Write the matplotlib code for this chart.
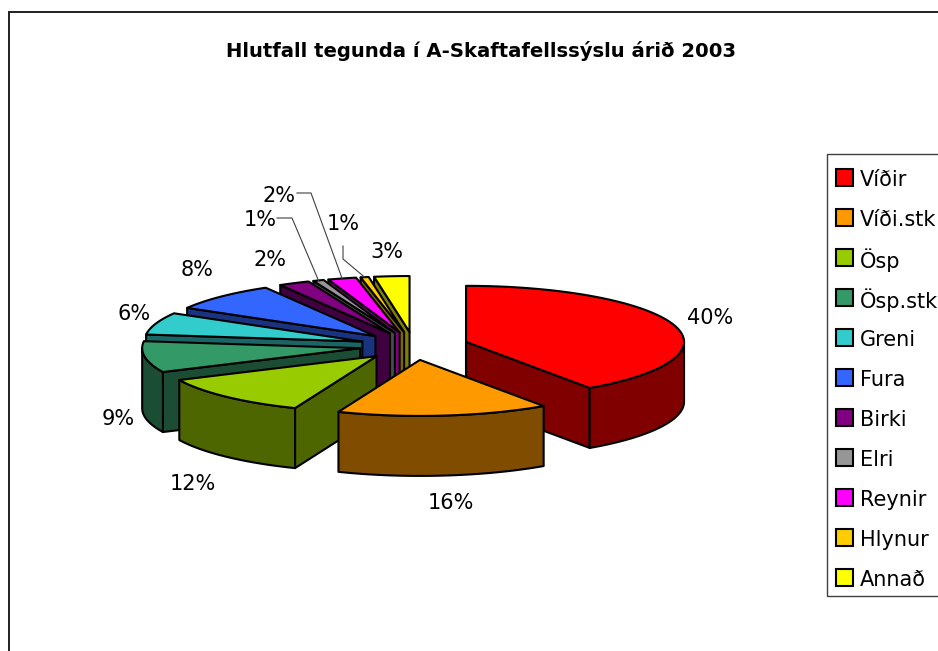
import numpy as np
import matplotlib
matplotlib.use("Agg")
import matplotlib.pyplot as plt
from matplotlib.patches import Polygon, Rectangle

categories = ["Víðir", "Víði.stk", "Ösp", "Ösp.stk", "Greni", "Fura", "Birki", "Elri", "Reynir", "Hlynur", "Annað"]
values = [40.4, 15.7, 11.9, 9.0, 6.4, 8.2, 2.3, 0.8, 2.1, 0.6, 2.6]
top_colors = ["#FF0000", "#FF9900", "#99CC00", "#339966", "#33CCCC", "#3366FF", "#800080", "#969696", "#FF00FF", "#FFCC00", "#FFFF00"]
side_colors = ["#800000", "#804C00", "#4D6600", "#1A4D33", "#1A6666", "#1A3380", "#400040", "#4B4B4B", "#800080", "#806600", "#808000"]
title = "Hlutfall tegunda í A-Skaftafellssýslu árið 2003"

W, H = 938, 651
CX, CY = 414, 346      # pie centre (px)
RX, RY = 218, 56       # ellipse radii (px)
DEPTH = 60
EXPLODE = 0.25
LW = 1.5

fig = plt.figure(figsize=(W / 100, H / 100), dpi=100, facecolor="white")
ax = fig.add_axes([0, 0, 1, 1])
ax.set_xlim(0, W)
ax.set_ylim(H, 0)
ax.axis("off")
plt.rcParams["font.family"] = "DejaVu Sans"

# outer chart frame (runs off the right and bottom of the picture)
ax.add_patch(Rectangle((9, 12), W + 50, H + 50, fc="white", ec="#202020", lw=1.4, clip_on=True))


def pt(deg, r=1.0, ox=0.0, oy=0.0):
    t = np.radians(deg)
    return ox + RX * r * np.sin(t), oy - RY * r * np.cos(t)


total = sum(values)
edges = np.concatenate([[0], np.cumsum(values)]) / total * 360
slices = []
for i in range(len(values)):
    a, b = edges[i], edges[i + 1]
    m = (a + b) / 2
    ox, oy = pt(m, EXPLODE, CX, CY)
    slices.append((i, a, b, m, ox, oy))


def poly(xy, fc, z):
    ax.add_patch(Polygon(xy, closed=True, fc=fc, ec="black", lw=LW, joinstyle="round", zorder=z))


z = 2
for i, a, b, m, ox, oy in sorted(slices, key=lambda s: -np.cos(np.radians(s[3]))):
    side = side_colors[i]
    # radial walls that face the viewer
    if np.sin(np.radians(a)) < -1e-6:
        x, y = pt(a, 1, ox, oy)
        poly([(ox, oy), (x, y), (x, y + DEPTH), (ox, oy + DEPTH)], side, z); z += 1
    if np.sin(np.radians(b)) > 1e-6:
        x, y = pt(b, 1, ox, oy)
        poly([(ox, oy), (x, y), (x, y + DEPTH), (ox, oy + DEPTH)], side, z); z += 1
    if a == 0:
        poly([(ox, oy), (ox, oy + DEPTH)], side, z); z += 1
    # outer wall: only the front half of the rim
    lo, hi = max(a, 90), min(b, 270)
    if hi > lo:
        th = np.linspace(lo, hi, 80)
        xs, ys = pt(th, 1, ox, oy)
        upper = list(zip(xs, ys))
        lower = list(zip(xs[::-1], ys[::-1] + DEPTH))
        poly(upper + lower, side, z); z += 1
    # top face
    th = np.linspace(a, b, 120)
    xs, ys = pt(th, 1, ox, oy)
    poly([(ox, oy)] + list(zip(xs, ys)), top_colors[i], z); z += 1

# percentage labels
label_xy = [(710, 318), (451, 503), (193, 484), (118, 419), (134, 314), (197, 270),
            (270, 260), (260, 220), (279, 196), (343, 224), (387, 252)]
pcts = [f"{v / total * 100:.0f}%" for v in values]
for (x, y), s in zip(label_xy, pcts):
    ax.text(x, y, s, ha="center", va="center", fontsize=15, color="black", zorder=200)

# leader lines for the narrow rear slices: label side, elbow, slice rim
leaders = {7: [(277, 218), (292, 218)], 8: [(297, 193), (311, 193)], 9: [(343, 246), (343, 259)]}
for i, pts in leaders.items():
    _, a, b, m, ox, oy = slices[i]
    ex, ey = pt(m, 1, ox, oy)
    xs = [p[0] for p in pts] + [ex]
    ys = [p[1] for p in pts] + [ey]
    ax.plot(xs, ys, color="#404040", lw=0.8, zorder=150)

ax.text(481, 51, title, ha="center", va="center", fontsize=14.15, fontweight="bold", color="black", zorder=200)

# legend: frame, evenly spaced swatches and names
ax.add_patch(Rectangle((827, 154), W, 596 - 154, fc="white", ec="#404040", lw=1.0, zorder=250))
for i, (name, color) in enumerate(zip(categories, top_colors)):
    yc = 177 + 40 * i
    ax.add_patch(Rectangle((836, yc - 8.5), 17, 17, fc=color, ec="black", lw=LW, zorder=260))
    ax.text(860, yc + 1, name, ha="left", va="center_baseline", fontsize=15, color="black", zorder=260)

fig.savefig("out.png", dpi=100, facecolor="white")
